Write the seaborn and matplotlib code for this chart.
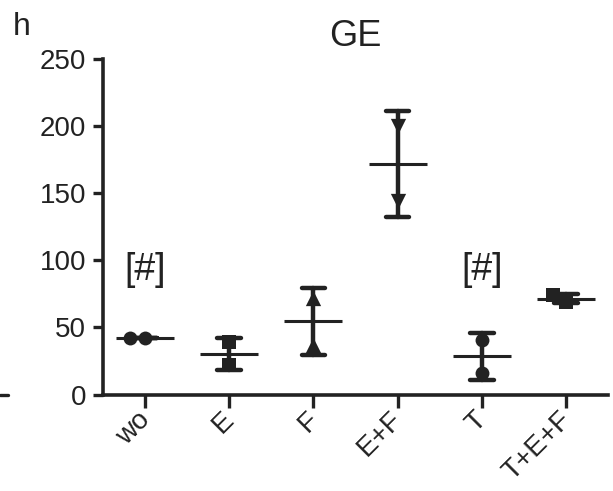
import pandas as pd
import numpy as np
import seaborn as sns
import matplotlib.pyplot as plt
from matplotlib.lines import Line2D
from matplotlib.transforms import ScaledTranslation

# values (two replicates per condition)
groups = ['wo', 'E', 'F', 'E+F', 'T', 'T+E+F']
rep1 = [42, 39, 72, 200, 41, 69]
rep2 = [42, 22, 37, 144, 16, 74]
markers = ['o', 's', '^', 'v', 'o', 's']
flagged = ['wo', 'T']  # groups marked with [#]

df = pd.DataFrame({
    'group': groups * 2,
    'value': rep1 + rep2,
})

ink = '#222222'
sns.set_style('ticks')
plt.rcParams['font.family'] = ['Liberation Sans', 'DejaVu Sans']
plt.rcParams['axes.edgecolor'] = ink
plt.rcParams['xtick.color'] = ink
plt.rcParams['ytick.color'] = ink

fig = plt.figure(figsize=(6.13, 4.91), dpi=100)
ax = fig.add_axes([0.168, 0.1965, 0.824, 0.6825])

# individual points, one marker shape per group
for g, m in zip(groups, markers):
    sz = 11 if m in ('^', 'v') else 10
    sns.swarmplot(data=df[df['group'] == g], x='group', y='value', order=groups,
                  marker=m, size=sz, color=ink, linewidth=0, ax=ax, zorder=3)

# mean line with SD error bars
sns.pointplot(data=df, x='group', y='value', order=groups, errorbar='sd',
              linestyles='none', markers='_', markersize=42, markeredgewidth=2.2,
              capsize=0.28, color=ink, err_kws={'linewidth': 3.2}, ax=ax, zorder=4)

for g in flagged:
    ax.text(groups.index(g), 93, '[#]', ha='center', va='center', fontsize=27, color=ink)

ax.set_xlim(-0.5, 5.5)
ax.set_ylim(0, 250)
ax.set_yticks([0, 50, 100, 150, 200, 250])
ax.set_xticks(range(len(groups)), groups)
ax.set_xlabel('')
ax.set_ylabel('')
ax.set_title('GE', fontsize=26, color=ink, pad=10)
sns.despine(ax=ax)
for s in ['left', 'bottom']:
    ax.spines[s].set_linewidth(2.6)
ax.tick_params(axis='both', width=2.4, labelsize=20)
ax.tick_params(axis='y', length=7, pad=5)
ax.tick_params(axis='x', length=9, pad=10)
shift = ScaledTranslation(0.06, 0, fig.dpi_scale_trans)
for lab in ax.get_xticklabels():
    lab.set_rotation(45)
    lab.set_rotation_mode('anchor')
    lab.set_horizontalalignment('right')
    lab.set_verticalalignment('baseline')
    lab.set_transform(lab.get_transform() + shift)

fig.text(0.02, 0.975, 'h', fontsize=23, color=ink, va='top', ha='left')
fig.add_artist(Line2D([0.0, 0.013], [0.196, 0.196], color=ink, linewidth=2.4,
                      transform=fig.transFigure))

fig.savefig('out.png', dpi=100)
